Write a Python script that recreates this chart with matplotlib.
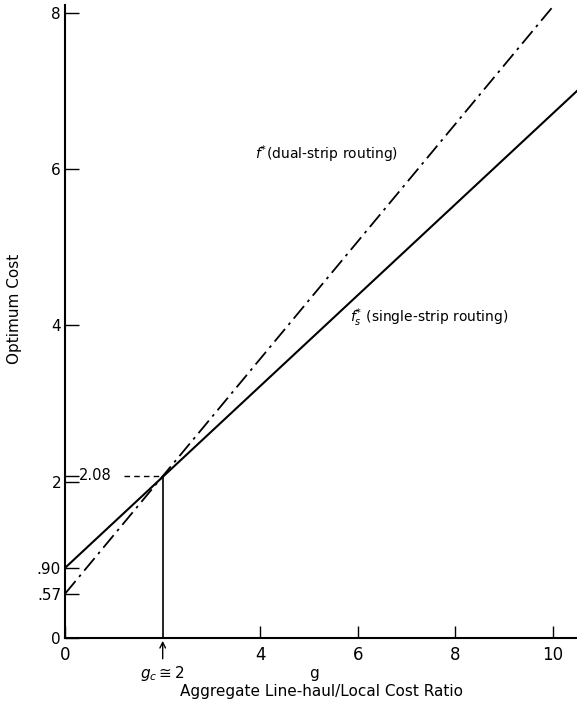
import matplotlib
matplotlib.use("Agg")
import matplotlib.pyplot as plt
import numpy as np

# line end points
g_single   = [0.0, 10.5]
f_single   = [0.90, 7.00]
g_dual     = [0.0, 10.1]
f_dual     = [0.57, 8.15]

g_cross    = 2.0
f_cross    = 2.08

xticks     = [0, 4, 6, 8, 10]
xticklbls  = ["0", "4", "6", "8", "10"]
yticks     = [0, 0.57, 0.90, 2, 2.08, 4, 6, 8]
yticklbls  = ["0", ".57", ".90", "2", "", "4", "6", "8"]

fig = plt.figure(figsize=(5.77, 7.09), dpi=100)
ax  = fig.add_axes([0.113, 0.100, 0.887, 0.893])

ax.plot(g_single, f_single, '-', color='k', lw=1.5)
ax.plot(g_dual, f_dual, color='k', lw=1.3, dashes=(9, 3, 1.5, 3))

# crossover guides
ax.plot([g_cross, g_cross], [0, f_cross], '-', color='k', lw=1.2)
ax.plot([1.2, g_cross], [f_cross, f_cross], color='k', lw=1.0, dashes=(4, 3))
ax.text(0.28, f_cross, "2.08", fontsize=10.5, va='center', ha='left')

ax.text(3.9, 6.19, r"$f^{*}$(dual-strip routing)", fontsize=10, va='center', ha='left')
ax.text(5.85, 4.10, r"$f_s^{*}$ (single-strip routing)", fontsize=10, va='center', ha='left')

ax.set_xlim(0, 10.5)
ax.set_ylim(0, 8.1)
ax.set_xticks(xticks)
ax.set_xticklabels(xticklbls, fontsize=12)
ax.set_yticks(yticks)
ax.set_yticklabels(yticklbls, fontsize=11)
ax.tick_params(axis='x', direction='in', length=9, width=1.0, pad=6)
ax.tick_params(axis='y', direction='in', length=10, width=1.0, pad=3)

for s in ["top", "right"]:
    ax.spines[s].set_visible(False)
for s in ["left", "bottom"]:
    ax.spines[s].set_linewidth(1.5)

ax.annotate("", xy=(g_cross, 0), xycoords='data',
            xytext=(g_cross, -0.3), textcoords='data',
            arrowprops=dict(arrowstyle='->', color='k', lw=1.0),
            annotation_clip=False)
ax.text(g_cross, -0.33, r"$g_c \cong 2$", fontsize=11, ha='center', va='top', clip_on=False)
ax.text(5.1, -0.36, "g", fontsize=11, ha='center', va='top', clip_on=False)

ax.set_xlabel("Aggregate Line-haul/Local Cost Ratio", fontsize=11, labelpad=14)
ax.set_ylabel("Optimum Cost", fontsize=11, labelpad=10)
ax.yaxis.set_label_coords(-0.085, 0.52)

fig.savefig("out.png", dpi=100)
